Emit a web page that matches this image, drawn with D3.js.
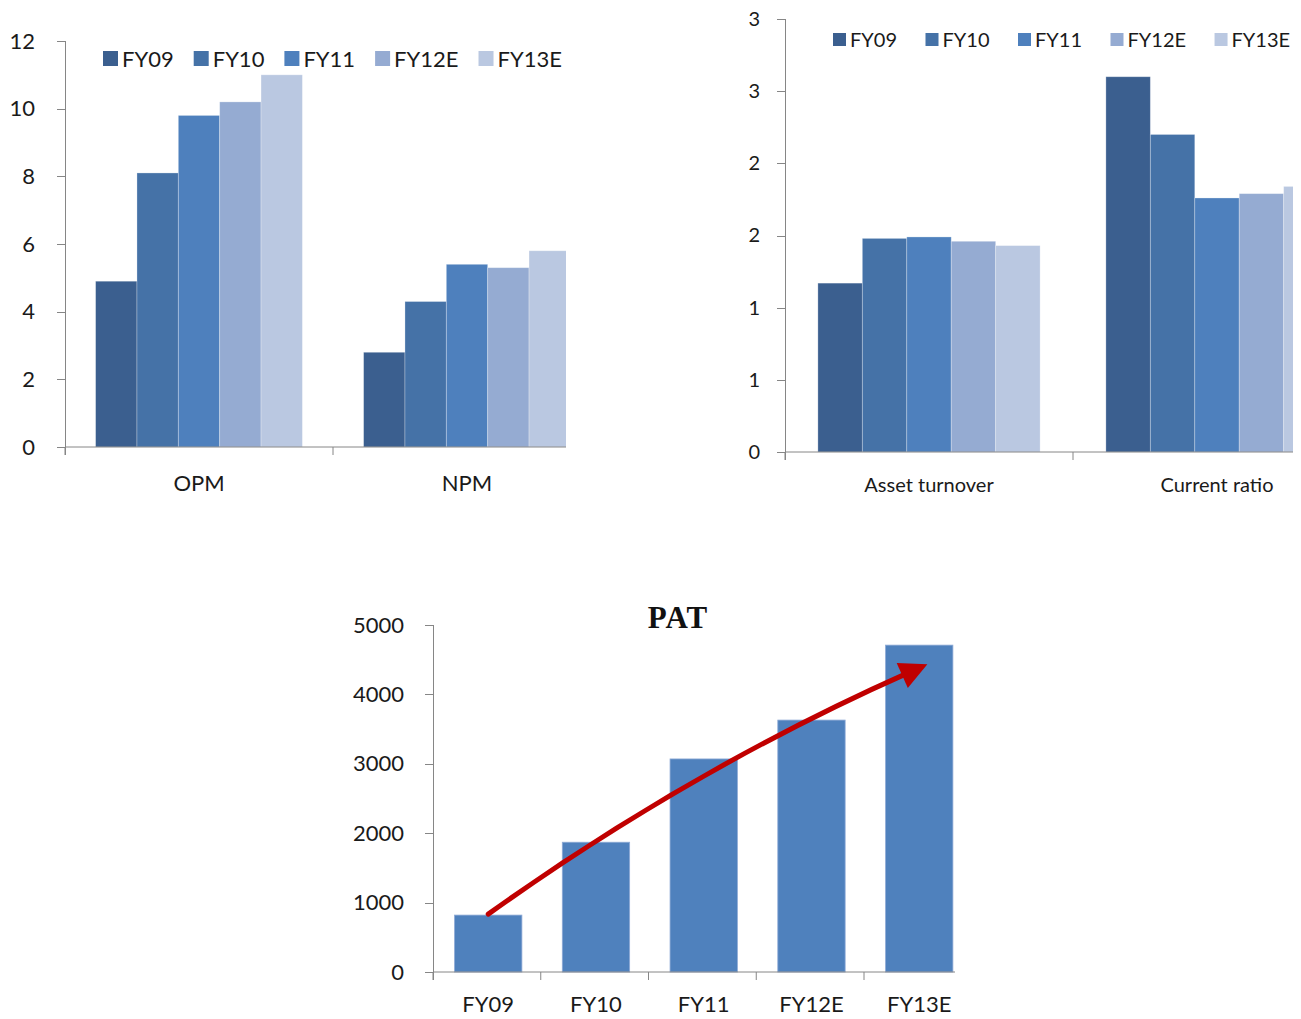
<!DOCTYPE html>
<html>
<head>
<meta charset="utf-8">
<script src="https://cdn.jsdelivr.net/npm/d3@7"></script>
<style>
  body { margin: 0; background: #fff; }
  svg text { font-family: Lato, "Open Sans", sans-serif; fill: #1a1a1a; }
  .axis path, .axis line { stroke: #868686; shape-rendering: crispEdges; }
</style>
</head>
<body>
<div id="chart"></div>
<script>
// Data
var years = ['FY09', 'FY10', 'FY11', 'FY12E', 'FY13E'];
var colors = ['#3b5f8f', '#4572a7', '#4e80bd', '#95abd2', '#bac8e1'];

var marginCats = ['OPM', 'NPM'];
var opm = [4.9, 8.1, 9.8, 10.2, 11.0];
var npm = [2.8, 4.3, 5.4, 5.3, 5.8];
var marginTicks = [0, 2, 4, 6, 8, 10, 12];

var ratioCats = ['Asset turnover', 'Current ratio'];
var assetTurnover = [1.17, 1.48, 1.49, 1.46, 1.43];
var currentRatio = [2.6, 2.2, 1.76, 1.79, 1.84];
var ratioTicks = [0, 0.5, 1, 1.5, 2, 2.5, 3];

var pat = [820, 1870, 3070, 3630, 4710];
var patTicks = [0, 1000, 2000, 3000, 4000, 5000];

var svg = d3.select('#chart').append('svg')
    .attr('width', 1301)
    .attr('height', 1019);
var defs = svg.append('defs');

// grouped bar chart (charts 1 and 2)
function grouped(o) {
    var g = svg.append('g').attr('transform', 'translate(' + o.left + ',' + o.top + ')');
    var h = o.height;

    defs.append('clipPath').attr('id', o.id + '-clip')
      .append('rect').attr('x', -20).attr('y', -5).attr('width', o.clipW + 20).attr('height', h + 30);

    var x0 = d3.scaleBand().domain(o.cats).range([0, o.catW * o.cats.length]);
    var x1 = d3.scaleBand().domain(years).range([0, x0.bandwidth()]).paddingOuter(0.74);
    var y = d3.scaleLinear().domain([0, o.max]).range([h, 0]);

    // y axis
    var ya = g.append('g').attr('class', 'axis')
        .call(d3.axisLeft(y).tickValues(o.ticks).tickSize(8).tickSizeOuter(0)
            .tickPadding(o.tickPad).tickFormat(o.fmt));
    ya.select('.domain').attr('d', 'M0,' + (h + 8) + 'V0');
    ya.selectAll('text').style('font-size', o.tickFont + 'px');

    var plot = g.append('g').attr('clip-path', 'url(#' + o.id + '-clip)');

    // bars
    var groups = plot.selectAll('.grp')
        .data(o.series)
        .enter().append('g')
        .attr('transform', function(d, i) { return 'translate(' + x0(o.cats[i]) + ',0)'; });
    groups.selectAll('rect')
        .data(function(d) { return d; })
        .enter().append('rect')
        .attr('x', function(d, i) { return x1(years[i]); })
        .attr('y', function(d) { return y(d); })
        .attr('width', x1.bandwidth())
        .attr('height', function(d) { return h - y(d); })
        .style('fill', function(d, i) { return colors[i]; })
        .style('stroke', 'rgba(255,255,255,0.35)')
        .style('stroke-width', 0.8);

    // x axis line and category boundary ticks
    plot.append('line')
        .attr('x1', 0).attr('x2', x0.range()[1]).attr('y1', h).attr('y2', h)
        .style('stroke', '#868686');
    plot.selectAll('.bt')
        .data(d3.range(o.cats.length + 1))
        .enter().append('line')
        .attr('x1', function(i) { return i * x0.step(); })
        .attr('x2', function(i) { return i * x0.step(); })
        .attr('y1', h).attr('y2', h + 8)
        .style('stroke', '#868686');

    g.selectAll('.cat')
        .data(o.cats)
        .enter().append('text')
        .attr('x', function(d) { return x0(d) + x0.bandwidth() / 2; })
        .attr('y', h + o.catDy)
        .attr('text-anchor', 'middle')
        .style('font-size', o.catFont + 'px')
        .text(function(d) { return d; });

    // legend
    var lg = g.append('g').attr('transform', 'translate(' + o.legX + ',' + o.legY + ')');
    var lx = 0;
    years.forEach(function(yr, i) {
        lg.append('rect').attr('x', lx).attr('y', -o.sw - 1).attr('width', o.sw).attr('height', o.sw)
            .style('fill', colors[i]);
        var t = lg.append('text').attr('x', lx + o.sw + 4).attr('y', 0)
            .style('font-size', o.legFont + 'px').text(yr);
        lx += o.sw + 4 + t.node().getComputedTextLength() + o.legGap;
    });
}

grouped({
    id: 'c1', left: 65, top: 41, height: 406, catW: 268, clipW: 501,
    cats: marginCats, series: [opm, npm], max: 12, ticks: marginTicks,
    fmt: d3.format('d'), tickPad: 22, tickFont: 22, catFont: 22, catDy: 44,
    legX: 38, legY: 26, sw: 15, legFont: 22, legGap: 20
});

grouped({
    id: 'c2', left: 785, top: 19, height: 433, catW: 288, clipW: 508,
    cats: ratioCats, series: [assetTurnover, currentRatio], max: 3, ticks: ratioTicks,
    fmt: function(d) { return Math.round(d); }, tickPad: 17, tickFont: 20, catFont: 20, catDy: 40,
    legX: 48, legY: 28, sw: 13, legFont: 20, legGap: 28.5
});

// PAT chart
var p = { left: 433, top: 625, height: 347, step: 107.75, clipW: 522 };
var g3 = svg.append('g').attr('transform', 'translate(' + p.left + ',' + p.top + ')');
defs.append('clipPath').attr('id', 'c3-clip')
  .append('rect').attr('x', -20).attr('y', -20).attr('width', p.clipW + 20).attr('height', p.height + 40);

var x = d3.scaleBand().domain(years)
    .range([0, p.step * (years.length - 0.375 + 0.4)])
    .paddingInner(0.375).paddingOuter(0.2);
var y = d3.scaleLinear().domain([0, 5000]).range([p.height, 0]);

var ya3 = g3.append('g').attr('class', 'axis')
    .call(d3.axisLeft(y).tickValues(patTicks).tickSize(8).tickSizeOuter(0).tickPadding(21).tickFormat(d3.format('d')));
ya3.select('.domain').attr('d', 'M0,' + (p.height + 8) + 'V0');
ya3.selectAll('text').style('font-size', '22px');

var plot3 = g3.append('g').attr('clip-path', 'url(#c3-clip)');
plot3.selectAll('.bar')
    .data(pat)
    .enter().append('rect')
    .attr('class', 'bar')
    .attr('x', function(d, i) { return x(years[i]); })
    .attr('y', function(d) { return y(d); })
    .attr('width', x.bandwidth())
    .attr('height', function(d) { return p.height - y(d); })
    .style('fill', '#4f81bd')
    .style('stroke', '#8eaad6')
    .style('stroke-width', 0.8);

plot3.append('line')
    .attr('x1', 0).attr('x2', x.range()[1]).attr('y1', p.height).attr('y2', p.height)
    .style('stroke', '#868686');
plot3.selectAll('.bt')
    .data(d3.range(years.length + 1))
    .enter().append('line')
    .attr('x1', function(i) { return i * x.step(); })
    .attr('x2', function(i) { return i * x.step(); })
    .attr('y1', p.height).attr('y2', p.height + 8)
    .style('stroke', '#868686');

g3.selectAll('.cat')
    .data(years)
    .enter().append('text')
    .attr('x', function(d) { return x(d) + x.bandwidth() / 2; })
    .attr('y', p.height + 40)
    .attr('text-anchor', 'middle')
    .style('font-size', '22px')
    .text(function(d) { return d; });

// title
svg.append('text')
    .attr('x', 678).attr('y', 628)
    .attr('text-anchor', 'middle')
    .style('font-family', '"Liberation Serif", "DejaVu Serif", serif')
    .style('font-weight', 'bold')
    .style('font-size', '31px')
    .style('letter-spacing', '1px')
    .style('fill', '#111')
    .text('PAT');

// growth arrow from FY09 bar top to FY13E bar
defs.append('marker')
    .attr('id', 'head')
    .attr('viewBox', '0 0 10 10')
    .attr('refX', 3).attr('refY', 5)
    .attr('markerWidth', 7).attr('markerHeight', 5.5)
    .attr('orient', 'auto')
    .append('path').attr('d', 'M0,0L10,5L0,10z').style('fill', '#c00000');

var ax0 = x(years[0]) + x.bandwidth() / 2, ay0 = y(pat[0]) - 1;
var ax1 = x(years[4]) + x.bandwidth() * 0.36, ay1 = y(pat[4]) + 27;
var cx = (ax0 + ax1) / 2 - 8, cy = (ay0 + ay1) / 2 - 24;
g3.append('path')
    .attr('d', 'M' + ax0 + ',' + ay0 + 'Q' + cx + ',' + cy + ' ' + ax1 + ',' + ay1)
    .style('fill', 'none')
    .style('stroke', '#c00000')
    .style('stroke-width', 5)
    .style('stroke-linecap', 'round')
    .attr('marker-end', 'url(#head)');
</script>
</body>
</html>
